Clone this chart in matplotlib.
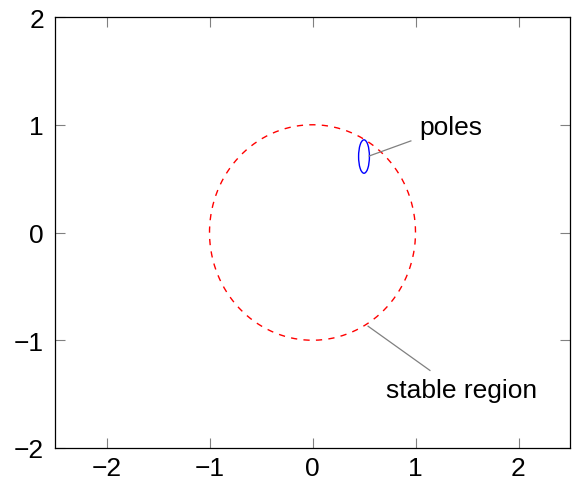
import numpy as np
import matplotlib
matplotlib.use("Agg")
import matplotlib.pyplot as plt
from matplotlib.patches import Ellipse

# data
circle_radius = 1.0
pole_center = (0.5, 0.705)
pole_width = 0.105
pole_height = 0.31
poles_line = ([0.55, 0.955], [0.71, 0.85])
poles_text_pos = (1.34, 0.98)
stable_line = ([0.54, 1.14], [-0.87, -1.28])
stable_text_pos = (1.45, -1.46)
xticks = [-2, -1, 0, 1, 2]
yticks = [-2, -1, 0, 1, 2]

plt.rcParams['font.family'] = ['Liberation Sans', 'DejaVu Sans']
plt.rcParams['font.size'] = 19

fig = plt.figure(figsize=(5.74, 4.81), dpi=100)
ax = fig.add_axes([55/574, 32/481, 515/574, 431/481])

theta = np.linspace(0, 2*np.pi, 400)
ax.plot(circle_radius*np.cos(theta), circle_radius*np.sin(theta),
        color='red', lw=1.0, dashes=(4.5, 4.5))
ax.add_patch(Ellipse(pole_center, pole_width, pole_height, fill=False,
                     edgecolor='blue', lw=1.0))

ax.plot(poles_line[0], poles_line[1], color='gray', lw=0.9)
ax.text(poles_text_pos[0], poles_text_pos[1], 'poles', ha='center', va='center')
ax.plot(stable_line[0], stable_line[1], color='gray', lw=0.9)
ax.text(stable_text_pos[0], stable_text_pos[1], 'stable region', ha='center', va='center')

ax.set_xlim(-2.5, 2.5)
ax.set_ylim(-2, 2)
ax.set_xticks(xticks)
ax.set_yticks(yticks)
ax.tick_params(direction='in', length=7.5, width=0.8, color='gray',
               top=True, right=True)
ax.tick_params(axis='x', pad=5.5)
ax.tick_params(axis='y', pad=8)
for s in ax.spines.values():
    s.set_linewidth(0.9)
    s.set_color('black')

fig.savefig('out.png', dpi=100)
